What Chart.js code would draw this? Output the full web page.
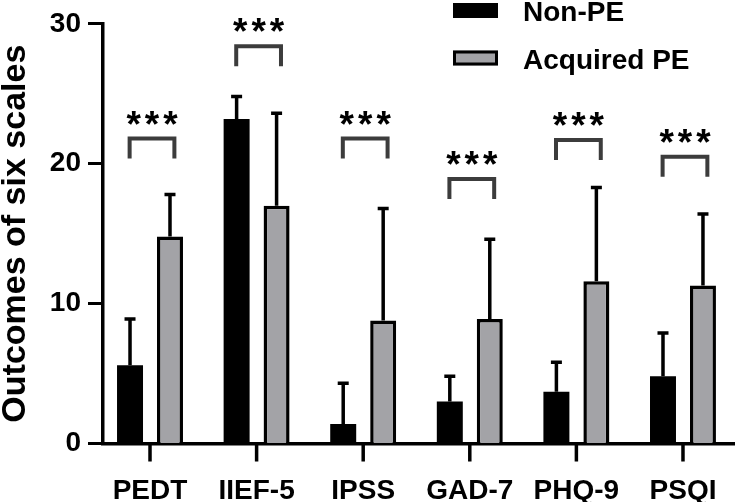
<!DOCTYPE html>
<html>
<head>
<meta charset="utf-8">
<script src="https://cdn.jsdelivr.net/npm/chart.js@4/dist/chart.umd.min.js"></script>
<style>
  html, body { margin: 0; padding: 0; background: #ffffff; }
  .chart-box { width: 735px; height: 502px; }
</style>
</head>
<body>
<div class="chart-box"><canvas id="scales-chart"></canvas></div>
<script>
const categories = ['PEDT', 'IIEF-5', 'IPSS', 'GAD-7', 'PHQ-9', 'PSQI'];
const seriesNames = ['Non-PE', 'Acquired PE'];
const nonPeMeans = [5.6, 23.2, 1.4, 3.0, 3.7, 4.8];
const nonPeSd = [3.3, 1.6, 2.9, 1.8, 2.1, 3.1];
const acquiredMeans = [14.8, 17.0, 8.8, 8.9, 11.6, 11.3];
const acquiredSd = [3.0, 6.6, 8.0, 5.7, 6.7, 5.1];
const sigHeights = [21.8, 28.4, 21.8, 18.9, 21.7, 20.5];
const sigLabels = ['***', '***', '***', '***', '***', '***'];
const yTicks = [0, 10, 20, 30];

const FONT = '"Liberation Sans", Arial, sans-serif';
const GREY = '#a3a3a7';
const BRACKET = '#3c3c3c';
const X_TICK_LENGTH = 18;

const toPoints = (values) => values.map((y, x) => ({ x, y }));
const spreads = [nonPeSd, acquiredSd];

const errorBars = {
  id: 'errorBars',
  afterDatasetsDraw(chart) {
    const { ctx, scales: { y } } = chart;
    ctx.save();
    ctx.strokeStyle = '#000000';
    ctx.lineWidth = 3.5;
    chart.data.datasets.forEach((dataset, di) => {
      chart.getDatasetMeta(di).data.forEach((bar, i) => {
        const top = y.getPixelForValue(dataset.data[i].y + spreads[di][i]);
        ctx.beginPath();
        ctx.moveTo(bar.x, bar.y);
        ctx.lineTo(bar.x, top);
        ctx.moveTo(bar.x - 5.5, top);
        ctx.lineTo(bar.x + 5.5, top);
        ctx.stroke();
      });
    });
    ctx.restore();
  }
};

// category tick marks under the x axis (grid ticks do not show on a linear bar axis)
const xTickMarks = {
  id: 'xTickMarks',
  afterDraw(chart) {
    const { ctx, scales: { x } } = chart;
    ctx.save();
    ctx.strokeStyle = '#000000';
    ctx.lineWidth = 3.5;
    x.ticks.forEach((_, i) => {
      const px = x.getPixelForTick(i);
      ctx.beginPath();
      ctx.moveTo(px, x.top);
      ctx.lineTo(px, x.top + X_TICK_LENGTH);
      ctx.stroke();
    });
    ctx.restore();
  }
};

const significance = {
  id: 'significance',
  afterDatasetsDraw(chart) {
    const { ctx, scales: { x, y } } = chart;
    const half = x.getPixelForValue(0.21) - x.getPixelForValue(0);
    ctx.save();
    categories.forEach((_, i) => {
      const cx = x.getPixelForValue(i) + 2;
      const top = y.getPixelForValue(sigHeights[i]);
      ctx.strokeStyle = BRACKET;
      ctx.lineWidth = 4;
      ctx.lineJoin = 'miter';
      ctx.beginPath();
      ctx.moveTo(cx - half, top + 20);
      ctx.lineTo(cx - half, top);
      ctx.lineTo(cx + half, top);
      ctx.lineTo(cx + half, top + 20);
      ctx.stroke();

      ctx.fillStyle = '#000000';
      ctx.font = `bold 37px ${FONT}`;
      ctx.letterSpacing = '4px';
      ctx.textAlign = 'center';
      ctx.textBaseline = 'alphabetic';
      ctx.fillText(sigLabels[i], cx + 2, top - 2);
    });
    ctx.restore();
  }
};

const legendBlock = {
  id: 'legendBlock',
  afterDraw(chart) {
    const { ctx } = chart;
    ctx.save();
    ctx.font = `bold 28px ${FONT}`;
    ctx.textAlign = 'left';
    ctx.textBaseline = 'alphabetic';
    chart.data.datasets.forEach((dataset, i) => {
      const rowY = 10 + i * 47.5;
      ctx.fillStyle = dataset.backgroundColor;
      ctx.fillRect(453, rowY - 7, 45, 15);
      if (dataset.borderWidth) {
        ctx.strokeStyle = '#000000';
        ctx.lineWidth = 3;
        ctx.strokeRect(454.5, rowY - 5.5, 42, 12);
      }
      ctx.fillStyle = '#000000';
      ctx.fillText(dataset.label, 523, rowY + 11);
    });
    ctx.restore();
  }
};

const tickFont = { family: FONT, size: 28, weight: 'bold' };

new Chart(document.getElementById('scales-chart'), {
  type: 'bar',
  plugins: [errorBars, significance, xTickMarks, legendBlock],
  data: {
    datasets: [{
      label: seriesNames[0],
      data: toPoints(nonPeMeans),
      backgroundColor: '#000000',
      borderWidth: 0,
    }, {
      label: seriesNames[1],
      data: toPoints(acquiredMeans),
      backgroundColor: GREY,
      borderColor: '#000000',
      borderWidth: 3.5,
    }],
  },
  options: {
    responsive: true,
    maintainAspectRatio: false,
    animation: false,
    categoryPercentage: 0.75,
    barPercentage: 0.65,
    layout: { padding: { top: 23.5, right: 0, bottom: 0, left: 0 } },
    plugins: {
      legend: { display: false },
      tooltip: { enabled: false },
    },
    scales: {
      x: {
        type: 'linear',
        min: -0.441,
        max: 5.488,
        offset: false,
        afterBuildTicks: (scale) => {
          scale.ticks = categories.map((_, i) => ({ value: i }));
        },
        afterFit: (scale) => { scale.height = 58.5; },
        ticks: {
          callback: (value) => categories[value],
          color: '#000000',
          font: tickFont,
          padding: 13,
          autoSkip: false,
          maxRotation: 0,
        },
        grid: {
          offset: false,
          drawOnChartArea: false,
          tickLength: X_TICK_LENGTH,
        },
        border: { color: '#000000', width: 3.5 },
      },
      y: {
        min: 0,
        max: 30,
        afterBuildTicks: (scale) => {
          scale.ticks = yTicks.map((value) => ({ value }));
        },
        afterFit: (scale) => { scale.width = 103; },
        ticks: {
          color: '#000000',
          font: tickFont,
          padding: 7,
        },
        grid: {
          drawOnChartArea: false,
          tickLength: 15,
          tickWidth: 3,
          tickColor: '#000000',
        },
        border: { color: '#000000', width: 3.5 },
        title: {
          display: true,
          text: 'Outcomes of six scales',
          color: '#000000',
          font: { family: FONT, size: 34, weight: 'bold', lineHeight: 0.9 },
          padding: { top: 0, bottom: 0 },
        },
      },
    },
  },
});
</script>
</body>
</html>
